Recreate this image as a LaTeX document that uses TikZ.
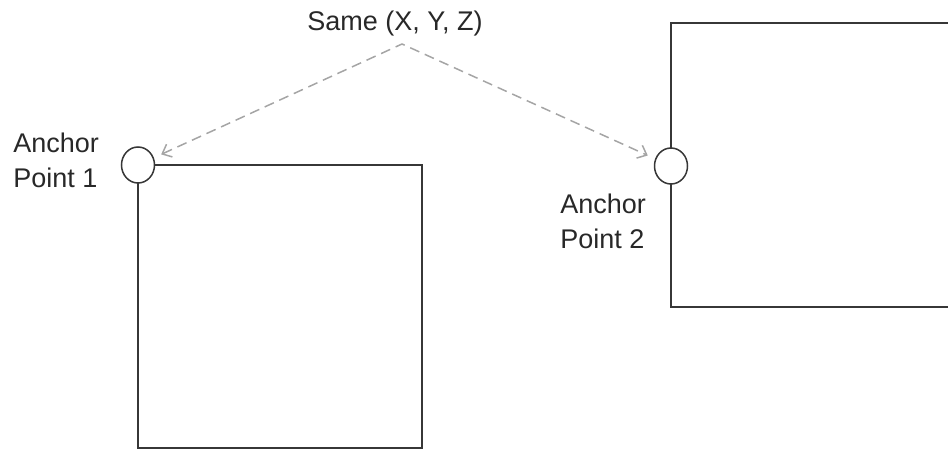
\documentclass[tikz,border=0pt]{standalone}
\usepackage{fontspec}
\setmainfont{Liberation Sans}
\usetikzlibrary{arrows.meta,positioning,shapes.geometric}
\definecolor{FrameGray}{RGB}{55,55,55}
\definecolor{LinkGray}{RGB}{165,165,165}
\definecolor{TextGray}{RGB}{40,40,40}

\begin{document}
\begin{tikzpicture}[x=0.5pt,y=-0.5pt,>={Straight Barb[length=4pt,width=7pt]},
    frame/.style={draw=FrameGray,line width=1pt},
    anchorpt/.style={ellipse,draw=FrameGray,line width=0.75pt,fill=white,
      minimum width=16.5pt,minimum height=18pt,inner sep=0pt},
    lbl/.style={font=\fontsize{13.5}{17.5}\selectfont,text=TextGray,
      align=left,inner sep=0pt},
    link/.style={LinkGray,line width=0.75pt,dash pattern=on 5pt off 3pt,
      shorten <=4pt,shorten >=4pt}]
  \useasboundingbox (0,0) rectangle (948,450);
  \clip (0,0) rectangle (948,450);
  % the two blocks
  \draw[frame] (138,165) rectangle (422,448);
  \draw[frame] (960,23) -- (671,23) -- (671,307) -- (960,307);
  % anchors sit on the corner / left edge
  \node[anchorpt] (ap1) at (138,165) {};
  \node[anchorpt] (ap2) at (671,166) {};
  % base is the last line here
  \node[lbl,anchor=base west] (lab1) at (13,187) {Anchor\\Point 1};
  \node[lbl,anchor=base west] (lab2) at (560,248) {Anchor\\Point 2};
  \node[lbl,anchor=base] (same) at (395,30) {Same (X, Y, Z)};
  \coordinate (fork) at (402,44);
  \draw[link,<->] (ap1) -- (fork) -- (ap2);
\end{tikzpicture}
\end{document}
